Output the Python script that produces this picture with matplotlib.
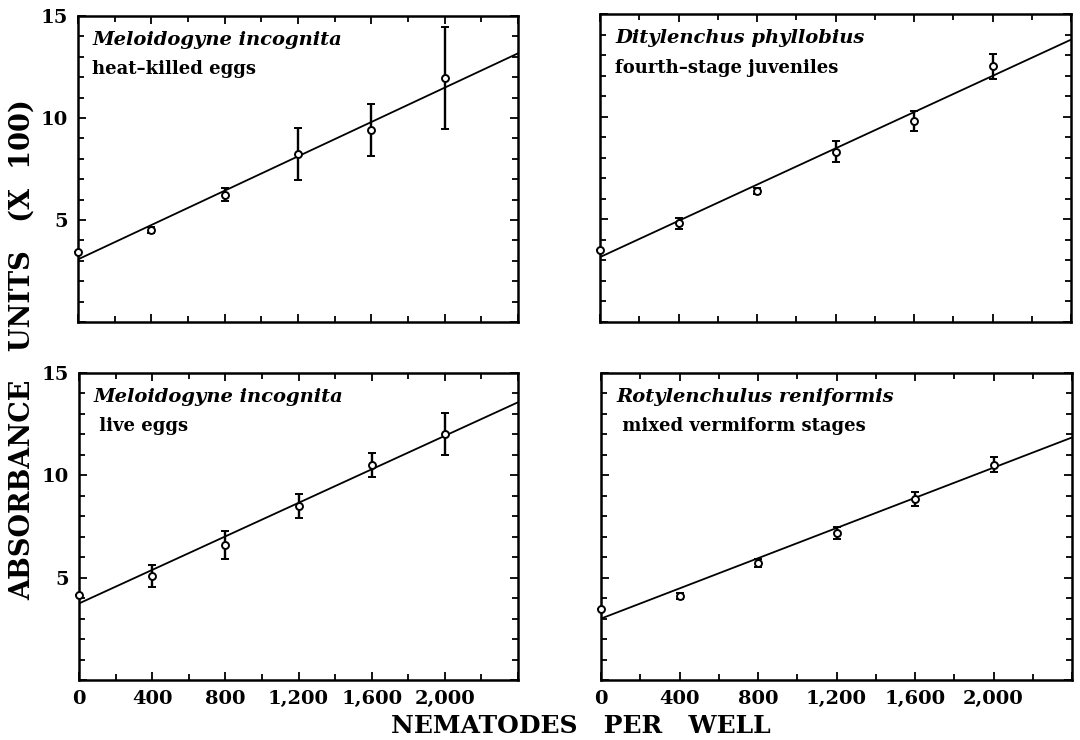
import numpy as np
import matplotlib
matplotlib.use("Agg")
import matplotlib.pyplot as plt
from matplotlib.ticker import MultipleLocator, FuncFormatter

plt.rcParams['font.family'] = ['DejaVu Serif']
plt.rcParams['font.weight'] = 'bold'

# Nematodes per well
nematodes = [0, 400, 800, 1200, 1600, 2000]
fit_x = [0, 2400]

# Panel texts
species = ["Meloidogyne incognita", "Ditylenchus phyllobius",
           "Meloidogyne incognita", "Rotylenchulus reniformis"]
stages = ["heat\u2013killed eggs", "fourth\u2013stage juveniles",
          " live eggs", " mixed vermiform stages"]

# Absorbance units (x 100), means and error half-widths
heat_killed = [3.45, 4.5, 6.25, 8.25, 9.4, 11.95]
heat_killed_err = [0.0, 0.15, 0.3, 1.28, 1.28, 2.5]
heat_killed_fit = [3.07, 13.17]

phyllobius = [3.5, 4.8, 6.4, 8.3, 9.8, 12.45]
phyllobius_err = [0.0, 0.25, 0.15, 0.5, 0.5, 0.6]
phyllobius_fit = [3.16, 13.75]

live_eggs = [4.15, 5.08, 6.6, 8.5, 10.5, 12.03]
live_eggs_err = [0.0, 0.55, 0.7, 0.6, 0.58, 1.03]
live_eggs_fit = [3.74, 13.57]

reniformis = [3.45, 4.1, 5.7, 7.2, 8.85, 10.52]
reniformis_err = [0.0, 0.15, 0.2, 0.3, 0.35, 0.38]
reniformis_fit = [3.0, 11.85]

means = [heat_killed, phyllobius, live_eggs, reniformis]
errs = [heat_killed_err, phyllobius_err, live_eggs_err, reniformis_err]
fits = [heat_killed_fit, phyllobius_fit, live_eggs_fit, reniformis_fit]

W, H = 1080, 740
fig = plt.figure(figsize=(W / 100, H / 100), dpi=100)

# panel boxes in pixels: left, top, right, bottom
boxes = [(78, 16, 518, 322), (600, 14, 1071, 322),
         (79, 373, 518, 680), (601, 373, 1072, 680)]

for k, (l, t, r, b) in enumerate(boxes):
    ax = fig.add_axes([l / W, (H - b) / H, (r - l) / W, (b - t) / H])
    ax.errorbar(nematodes, means[k], yerr=errs[k], fmt='o', color='black',
                mfc='white', mec='black', ms=5, mew=1.4, elinewidth=1.7,
                capsize=3, capthick=1.7, clip_on=False, zorder=3)
    ax.plot(fit_x, fits[k], color='black', lw=1.3, zorder=2)

    ax.set_xlim(0, 2400)
    ax.set_ylim(0, 15)
    ax.xaxis.set_major_locator(MultipleLocator(400))
    ax.xaxis.set_minor_locator(MultipleLocator(200))
    ax.yaxis.set_major_locator(MultipleLocator(5))
    ax.yaxis.set_minor_locator(MultipleLocator(1))
    ax.tick_params(which='both', direction='in', top=True, right=True, width=1.3)
    ax.tick_params(which='major', length=6, labelsize=14, pad=7)
    ax.tick_params(which='minor', length=4)
    for s in ax.spines.values():
        s.set_linewidth(1.8)

    if k < 2:
        ax.tick_params(labelbottom=False)
    else:
        ax.xaxis.set_major_formatter(
            FuncFormatter(lambda v, p: "" if v > 2000 else f"{int(v):,}"))
    if k % 2 == 1:
        ax.tick_params(labelleft=False)
    else:
        ax.yaxis.set_major_formatter(
            FuncFormatter(lambda v, p: "" if v == 0 else f"{int(v)}"))

    ax.text(0.032, 0.905, species[k], transform=ax.transAxes, fontsize=14,
            style='italic', fontweight='bold', va='baseline')
    ax.text(0.032, 0.81, stages[k], transform=ax.transAxes, fontsize=13,
            fontweight='bold', va='baseline')

fig.text(0.021, 0.528, "ABSORBANCE   UNITS   (X  100)",
         rotation=90, ha='center', va='center', fontsize=19.5, fontweight='bold')
fig.text(0.538, 0.019, "NEMATODES   PER   WELL",
         ha='center', va='center', fontsize=18, fontweight='bold')

fig.savefig("out.png", dpi=100)
